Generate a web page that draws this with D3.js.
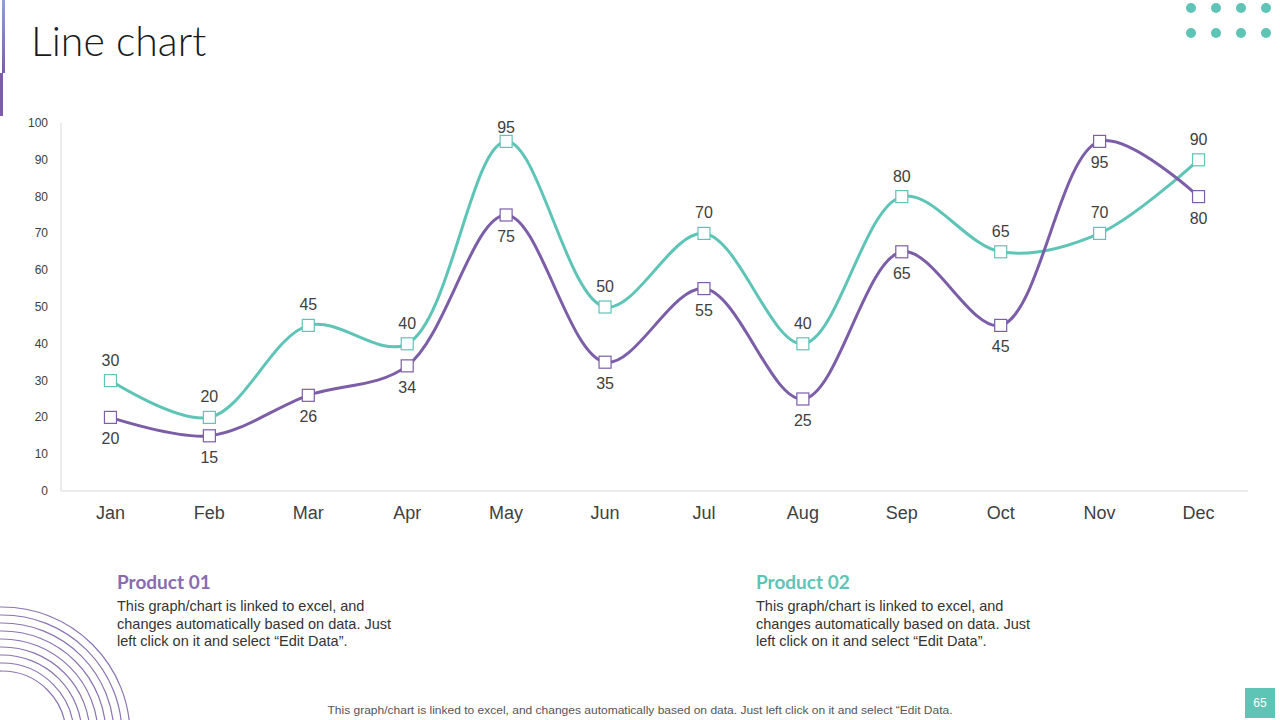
<!DOCTYPE html>
<html><head><meta charset="utf-8">
<script src="https://cdn.jsdelivr.net/npm/d3@7"></script>
<style>
html,body{margin:0;padding:0;background:#fff;}
svg{display:block;font-family:Arial,"Liberation Sans",sans-serif;}
</style></head>
<body><svg id="c" width="1280" height="720"></svg>
<script>
const months = ["Jan","Feb","Mar","Apr","May","Jun","Jul","Aug","Sep","Oct","Nov","Dec"];
const product01 = [20,15,26,34,75,35,55,25,65,45,95,80];
const product02 = [30,20,45,40,95,50,70,40,80,65,70,90];
const yTicks = [0,10,20,30,40,50,60,70,80,90,100];
const seriesNames = ["Product 01","Product 02"];
const desc = ["This graph/chart is linked to excel, and","changes automatically based on data. Just","left click on it and select \u201cEdit Data\u201d."];
const footer = "This graph/chart is linked to excel,  and changes automatically based on data. Just left click on it and select \u201cEdit Data.";
const pageNum = "65";

const purple = "#7b5ea7", teal = "#5ec4b6";
const svg = d3.select("#c");

// decorations
const grad = svg.append("defs").append("linearGradient").attr("id","lg").attr("x1",0).attr("y1",0).attr("x2",0).attr("y2",1);
grad.append("stop").attr("offset","0").attr("stop-color","#8fa0d6");
grad.append("stop").attr("offset","1").attr("stop-color","#7b5ea7");
svg.append("rect").attr("x",2).attr("y",0).attr("width",3).attr("height",73).attr("fill","url(#lg)");
svg.append("rect").attr("x",0).attr("y",73).attr("width",3).attr("height",43).attr("fill","#7b5ea7");

svg.append("text").attr("x",31).attr("y",56).attr("font-family","Lato, 'Open Sans', sans-serif")
  .attr("font-weight",300).attr("font-size",41).attr("fill","#1a1a1a").text("Line chart");

const dotX = [1191,1216,1241,1266], dotY = [8,33];
dotY.forEach(y=>dotX.forEach(x=>svg.append("circle").attr("cx",x).attr("cy",y).attr("r",5).attr("fill",teal)));

const rings = d3.range(9);
svg.append("g").selectAll("circle").data(rings).join("circle")
  .attr("cx",2).attr("cy",735).attr("r",d=>128-d*8).attr("fill","none").attr("stroke","#8b74b3").attr("stroke-width",1.2);

// chart
const x = d3.scaleBand().domain(months).range([61,1248]);
const y = d3.scaleLinear().domain([0,100]).range([491,123]);
const cx = m => x(m)+x.bandwidth()/2;

const g = svg.append("g");
g.append("line").attr("x1",61).attr("x2",61).attr("y1",y(100)).attr("y2",y(0)).attr("stroke","#d9d9d9");
g.append("line").attr("x1",61).attr("x2",1248).attr("y1",y(0)).attr("y2",y(0)).attr("stroke","#d9d9d9");
g.selectAll(".yt").data(yTicks).join("text").attr("x",48).attr("y",d=>y(d)+4).attr("text-anchor","end")
  .attr("font-size",12).attr("fill","#404040").text(d=>d);
g.selectAll(".xt").data(months).join("text").attr("x",d=>cx(d)).attr("y",519).attr("text-anchor","middle")
  .attr("font-size",18).attr("fill","#404040").text(d=>d);

const line = d3.line().x((d,i)=>cx(months[i])).y(d=>y(d)).curve(d3.curveCatmullRom.alpha(0.5));
const series = [{v:product02,c:teal,above:true},{v:product01,c:purple,above:false}];
series.forEach(s=>{
  g.append("path").attr("d",line(s.v)).attr("fill","none").attr("stroke",s.c).attr("stroke-width",3);
});
series.forEach(s=>{
  g.selectAll(null).data(s.v).join("rect").attr("x",(d,i)=>cx(months[i])-6).attr("y",d=>y(d)-6)
    .attr("width",12).attr("height",12).attr("fill","#fff").attr("stroke",s.c).attr("stroke-width",1.2);
  g.selectAll(null).data(s.v).join("text").attr("x",(d,i)=>cx(months[i]))
    .attr("y",d=>s.above? Math.max(y(d)-15, y(100)+10) : y(d)+27)
    .attr("text-anchor","middle").attr("font-size",16).attr("fill","#404040").text(d=>d);
});

// legend blocks
const blocks = [{x:117,c:"#8a6bb0"},{x:756,c:teal}];
blocks.forEach((b,i)=>{
  svg.append("text").attr("x",b.x).attr("y",589).attr("font-family","Lato, 'Open Sans', sans-serif").attr("font-weight",700)
    .attr("font-size",19).attr("fill",b.c).text(seriesNames[i]);
  desc.forEach((t,j)=>svg.append("text").attr("x",b.x).attr("y",611+j*17.5).attr("font-size",14.5).attr("fill","#333").text(t));
});

svg.append("text").attr("x",640).attr("y",714).attr("text-anchor","middle").attr("font-size",11.5)
  .attr("fill","#555").attr("textLength",625).attr("lengthAdjust","spacingAndGlyphs").text(footer);

svg.append("rect").attr("x",1245).attr("y",688).attr("width",30).attr("height",30).attr("fill",teal);
svg.append("text").attr("x",1260).attr("y",707).attr("text-anchor","middle").attr("font-size",12).attr("fill","#fff").text(pageNum);
</script></body></html>
